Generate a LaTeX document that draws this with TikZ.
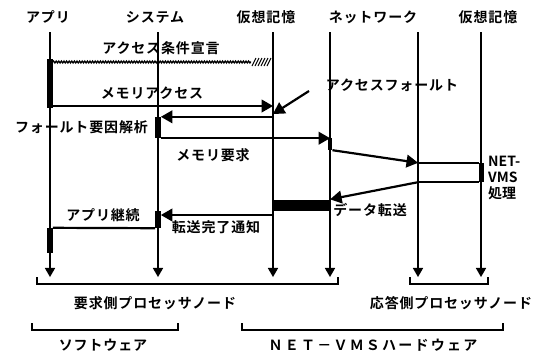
\documentclass[tikz,border=0pt]{standalone}
\usepackage{fontspec}
\setmainfont{Noto Sans CJK JP}[BoldFont={Noto Sans CJK JP Bold},LetterSpace=6]
\usetikzlibrary{arrows,positioning,decorations.pathmorphing}

\tikzset{
  lifeline/.style={line width=1.5pt,->},
  msg/.style={line width=2.2pt},
  actbar/.style={fill=black,draw=none,inner sep=0pt,minimum width=5.5pt},
  bracket/.style={line width=1.8pt},
  lbl/.style={inner sep=0pt}
}

\begin{document}
\begin{tikzpicture}[x=1pt,y=-1pt,>=triangle 60,font=\fontsize{14}{16}\selectfont\bfseries]
\useasboundingbox (0,0) rectangle (540,354);

% heads of the lifelines
\node [lbl] (tApp) at (48,17) {アプリ};
\node [lbl] (tSys) at (155,17) {システム};
\node [lbl] (tVm)  at (266,17) {仮想記憶};
\node [lbl] (tNet) at (373,17) {ネットワーク};
\node [lbl] (tRvm) at (488,17) {仮想記憶};

\foreach \n/\x in {app/50,sys/158,vm/273,netL/330,netR/418,rvm/481} {
  \coordinate (\n) at (\x,32);
  \coordinate (\n end) at (\x,277);
  \draw [lifeline] (\n) -- (\n end);
}

% activation bars
\node [actbar,minimum height=49pt] (appAct1) at (50,83.5) {};
\node [actbar,minimum height=21pt] (sysAct1) at (158,127.5) {};
\node [actbar,minimum width=4.5pt,minimum height=12pt] (netAct) at (330,144) {};
\node [actbar,minimum width=4.5pt,minimum height=19pt] (rvmAct) at (481.5,172.5) {};
\node [actbar,minimum width=57pt,minimum height=11pt] (dataBar) at (301.5,205) {};
\node [actbar,minimum height=17pt] (sysAct2) at (158,219.5) {};
\node [actbar,minimum height=25pt] (appAct2) at (50,240.5) {};

% access condition
\coordinate (condEnd) at (vm |- 0,62);
\draw [line width=1.3pt,decorate,decoration={zigzag,amplitude=0.9pt,segment length=2.6pt}]
  (appAct1.east |- condEnd) -- ([xshift=-22pt]condEnd);
\foreach \i in {0,...,5}
  \draw [line width=1pt] (252+3*\i,66) -- (256+3*\i,58);
\node [lbl] (condLbl) at (161,48) {アクセス条件宣言};

% memory access and fault
\draw [msg,->] (appAct1.south east |- 0,106) -- (vm |- 0,106);
\node [lbl] (accLbl) at (152,93) {メモリアクセス};
\draw [msg,->] (vm |- sysAct1.north) -- (sysAct1.north east);
\node [lbl] (faultLbl) at (392,85) {アクセスフォールト};
\coordinate (faultTail) at (309,91);
\draw [msg,->] (faultTail) -- (vm |- 0,114);
\node [lbl,left=7pt of sysAct1] (causeLbl) {フォールト要因解析};

% request to the remote node
\draw [msg,->] (sysAct1.south east) -- (netL |- sysAct1.south);
\node [lbl] (reqLbl) at (213,155) {メモリ要求};
\draw [msg,->] (netAct.south east) -- (netR |- rvmAct.north);
\draw [msg] (netR |- rvmAct.north) -- (rvmAct.north west);
\draw [msg] (rvmAct.south west) -- (netR |- rvmAct.south);
\node [lbl,anchor=north west,align=left,font=\fontsize{14}{16}\selectfont\bfseries\addfontfeature{LetterSpace=0}] (procLbl) at (488,156) {NET-\\VMS\\処理};

% data back
\draw [msg,->] (netR |- rvmAct.south) -- (dataBar.north east);
\node [lbl,anchor=west] (dataLbl) at ([xshift=3pt,yshift=-5pt]dataBar.east) {データ転送};
\coordinate (doneStart) at (vm |- 0,215);
\draw [msg,->] (doneStart) -- (sysAct2.east |- doneStart);
\node [lbl] (doneLbl) at (216,227) {転送完了通知};
\draw [msg] (sysAct2.south west) -- (appAct2.north east);
\node [lbl] (contLbl) at (103,215) {アプリ継続};

% brackets
\draw [bracket] (37,277) -- (37,284) -- (338,284) -- (338,277);
\node [lbl] (reqNode) at (155,303) {要求側プロセッサノード};
\draw [bracket] (410,277) -- (410,284) -- (488,284) -- (488,277);
\node [lbl] (ansNode) at (451,303) {応答側プロセッサノード};
\draw [bracket] (32,323) -- (32,330) -- (178,330) -- (178,323);
\node [lbl] (swLbl) at (103,345) {ソフトウェア};
\draw [bracket] (242,323) -- (242,330) -- (503,330) -- (503,323);
\node [lbl,font=\fontsize{14}{16}\selectfont\bfseries\addfontfeature{LetterSpace=16}] (hwLbl) at (373,345) {ＮＥＴ－ＶＭＳハードウェア};
\end{tikzpicture}
\end{document}
